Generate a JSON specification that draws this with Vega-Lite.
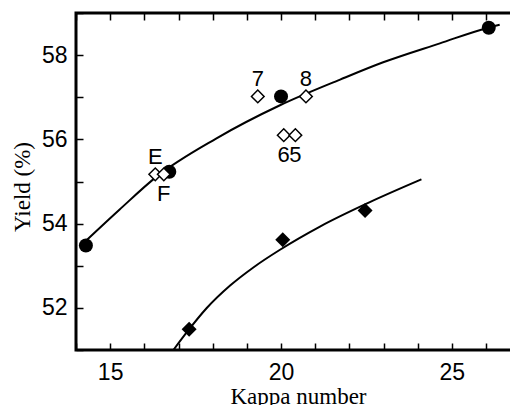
{
  "$schema": "https://vega.github.io/schema/vega-lite/v6.json",
  "width": 436,
  "height": 337,
  "autosize": {"type": "none"},
  "padding": {"left": 76, "top": 13, "right": 0, "bottom": 55},
  "background": "white",
  "config": {"view": {"stroke": "black", "strokeWidth": 3}},
  "datasets": {
    "curves": [
      {"curve": "upper", "x": 14.3, "y": 53.6},
      {"curve": "upper", "x": 15.27, "y": 54.33},
      {"curve": "upper", "x": 16.35, "y": 55.11},
      {"curve": "upper", "x": 18.1, "y": 56.02},
      {"curve": "upper", "x": 19.97, "y": 56.81},
      {"curve": "upper", "x": 21.73, "y": 57.42},
      {"curve": "upper", "x": 22.99, "y": 57.83},
      {"curve": "upper", "x": 24.65, "y": 58.28},
      {"curve": "upper", "x": 26.01, "y": 58.64},
      {"curve": "upper", "x": 26.4, "y": 58.72},
      {"curve": "lower", "x": 16.85, "y": 51.0},
      {"curve": "lower", "x": 17.29, "y": 51.47},
      {"curve": "lower", "x": 17.82, "y": 51.99},
      {"curve": "lower", "x": 18.51, "y": 52.53},
      {"curve": "lower", "x": 19.19, "y": 52.96},
      {"curve": "lower", "x": 19.97, "y": 53.38},
      {"curve": "lower", "x": 21.14, "y": 53.93},
      {"curve": "lower", "x": 22.6, "y": 54.51},
      {"curve": "lower", "x": 24.11, "y": 55.05}
    ],
    "points": [
      {"group": "circle", "x": 14.29, "y": 53.48, "label": "", "pos": "none"},
      {"group": "circle", "x": 16.73, "y": 55.23, "label": "", "pos": "none"},
      {"group": "circle", "x": 20.0, "y": 57.02, "label": "", "pos": "none"},
      {"group": "circle", "x": 26.08, "y": 58.65, "label": "", "pos": "none"},
      {"group": "filled", "x": 17.31, "y": 51.49, "label": "", "pos": "none"},
      {"group": "filled", "x": 20.05, "y": 53.62, "label": "", "pos": "none"},
      {"group": "filled", "x": 22.46, "y": 54.31, "label": "", "pos": "none"},
      {"group": "open", "x": 19.32, "y": 57.02, "label": "7", "pos": "above"},
      {"group": "open", "x": 20.73, "y": 57.02, "label": "8", "pos": "above"},
      {"group": "open", "x": 20.08, "y": 56.1, "label": "6", "pos": "below"},
      {"group": "open", "x": 20.42, "y": 56.1, "label": "5", "pos": "below"},
      {"group": "open", "x": 16.32, "y": 55.17, "label": "E", "pos": "above"},
      {"group": "open", "x": 16.57, "y": 55.17, "label": "F", "pos": "below"}
    ]
  },
  "layer": [
    {
      "data": {"name": "curves"},
      "mark": {"type": "line", "color": "black", "strokeWidth": 2, "interpolate": "monotone", "clip": true},
      "encoding": {
        "x": {
          "field": "x", "type": "quantitative",
          "scale": {"domain": [14, 26.76], "nice": false, "zero": false},
          "axis": {
            "orient": "bottom", "offset": -7, "zindex": 1,
            "values": [14, 15, 16, 17, 18, 19, 20, 21, 22, 23, 24, 25, 26],
            "labelExpr": "datum.value % 5 === 0 ? datum.label : ''",
            "labelOverlap": false, "labelFlush": false,
            "grid": false, "domain": false,
            "ticks": true, "tickSize": 7, "tickWidth": 1.5, "tickColor": "black",
            "labelFont": "Liberation Sans", "labelFontSize": 23, "labelColor": "black", "labelPadding": 11,
            "title": "Kappa number",
            "titleFont": "Liberation Serif", "titleFontSize": 23, "titleFontWeight": "normal", "titleColor": "black",
            "titleX": 222, "titleY": 60, "titleBaseline": "alphabetic", "titleAlign": "center"
          }
        },
        "y": {
          "field": "y", "type": "quantitative",
          "scale": {"domain": [51, 59], "nice": false, "zero": false},
          "axis": {
            "orient": "left", "offset": -7, "zindex": 1,
            "values": [51, 52, 53, 54, 55, 56, 57, 58, 59],
            "labelExpr": "datum.value % 2 === 0 ? datum.label : ''",
            "labelOverlap": false, "labelFlush": false,
            "grid": false, "domain": false,
            "ticks": true, "tickSize": 7, "tickWidth": 1.5, "tickColor": "black",
            "labelFont": "Liberation Sans", "labelFontSize": 23, "labelColor": "black", "labelPadding": 9,
            "title": "Yield (%)",
            "titleFont": "Liberation Serif", "titleFontSize": 23, "titleFontWeight": "normal", "titleColor": "black",
            "titleAngle": -90, "titleX": -54, "titleY": 173.5, "titleBaseline": "alphabetic", "titleAlign": "center"
          }
        },
        "detail": {"field": "curve"}
      }
    },
    {
      "data": {"name": "points"},
      "transform": [{"filter": "datum.group === 'circle'"}],
      "mark": {"type": "point", "shape": "circle", "filled": true, "color": "black", "opacity": 1, "size": 196},
      "encoding": {
        "x": {
          "field": "x", "type": "quantitative",
          "axis": {
            "orient": "top", "offset": -7, "zindex": 1,
            "values": [14, 15, 16, 17, 18, 19, 20, 21, 22, 23, 24, 25, 26],
            "labels": false, "grid": false, "title": null, "domain": false,
            "ticks": true, "tickSize": 7, "tickWidth": 1.5, "tickColor": "black"
          }
        },
        "y": {"field": "y", "type": "quantitative"}
      }
    },
    {
      "data": {"name": "points"},
      "transform": [{"filter": "datum.group === 'filled'"}],
      "mark": {"type": "point", "shape": "diamond", "filled": true, "color": "black", "opacity": 1, "size": 225},
      "encoding": {
        "x": {"field": "x", "type": "quantitative", "axis": null},
        "y": {"field": "y", "type": "quantitative"}
      }
    },
    {
      "data": {"name": "points"},
      "transform": [{"filter": "datum.group === 'open'"}],
      "mark": {"type": "point", "shape": "diamond", "filled": true, "fill": "white", "stroke": "black", "strokeWidth": 1.5, "opacity": 1, "size": 160},
      "encoding": {
        "x": {"field": "x", "type": "quantitative", "axis": null},
        "y": {"field": "y", "type": "quantitative"}
      }
    },
    {
      "data": {"name": "points"},
      "transform": [{"filter": "datum.pos === 'above'"}],
      "mark": {"type": "text", "font": "Liberation Sans", "fontSize": 22, "color": "black", "baseline": "middle", "align": "center", "dy": -17},
      "encoding": {
        "x": {"field": "x", "type": "quantitative", "axis": null},
        "y": {"field": "y", "type": "quantitative"},
        "text": {"field": "label"}
      }
    },
    {
      "data": {"name": "points"},
      "transform": [{"filter": "datum.pos === 'below'"}],
      "mark": {"type": "text", "font": "Liberation Sans", "fontSize": 22, "color": "black", "baseline": "middle", "align": "center", "dy": 20},
      "encoding": {
        "x": {"field": "x", "type": "quantitative", "axis": null},
        "y": {"field": "y", "type": "quantitative"},
        "text": {"field": "label"}
      }
    }
  ],
  "resolve": {"axis": {"x": "independent"}}
}
